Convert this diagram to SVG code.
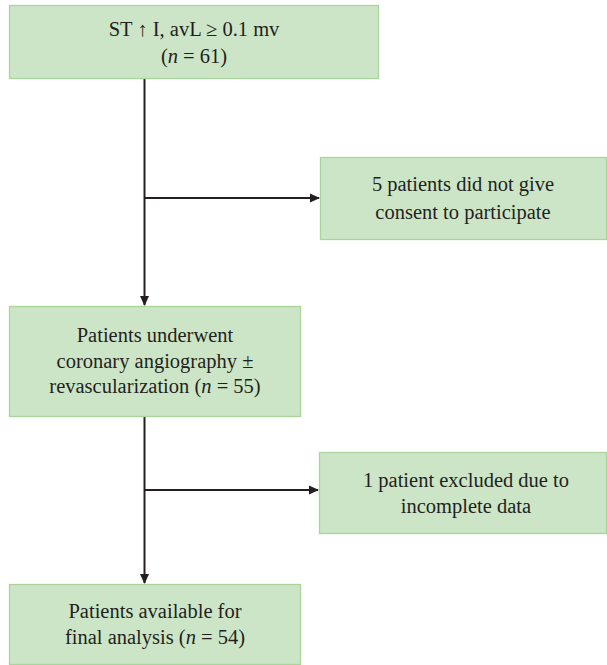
<svg xmlns="http://www.w3.org/2000/svg" width="607" height="665" viewBox="0 0 607 665">
<style>
.box{fill:#cde5c7;stroke:#a9d59c;stroke-width:1.3}
text{font-family:"Liberation Serif","Times New Roman",serif;font-size:20.5px;fill:#231f20;text-anchor:middle}
.ln{stroke:#231f20;stroke-width:2;fill:none}
</style>
<defs>
<marker id="ah" markerWidth="10" markerHeight="10" refX="9" refY="5" orient="auto" markerUnits="userSpaceOnUse">
<path d="M0,0.5 L10,5 L0,9.5 Z" fill="#231f20"/>
</marker>
</defs>
<rect width="607" height="665" fill="#ffffff"/>
<g id="connectors">
<line class="ln" x1="144.5" y1="79" x2="144.5" y2="305" marker-end="url(#ah)"/>
<line class="ln" x1="144.5" y1="198" x2="319" y2="198" marker-end="url(#ah)"/>
<line class="ln" x1="144.5" y1="417" x2="144.5" y2="583" marker-end="url(#ah)"/>
<line class="ln" x1="144.5" y1="490" x2="318" y2="490" marker-end="url(#ah)"/>
</g>
<g id="n1">
<rect class="box" x="9.5" y="5.5" width="369" height="73"/>
<text x="194" y="36">ST ↑ I, avL ≥ 0.1 mv</text>
<text x="194" y="63">(<tspan font-style="italic">n</tspan> = 61)</text>
</g>
<g id="n2">
<rect class="box" x="320.5" y="157.5" width="286" height="82"/>
<text x="463" y="191">5 patients did not give</text>
<text x="463" y="219">consent to participate</text>
</g>
<g id="n3">
<rect class="box" x="9.5" y="306.5" width="291" height="110"/>
<text x="155" y="342">Patients underwent</text>
<text x="155" y="368">coronary angiography ±</text>
<text x="155" y="393">revascularization (<tspan font-style="italic">n</tspan> = 55)</text>
</g>
<g id="n4">
<rect class="box" x="319.5" y="452.5" width="287" height="81"/>
<text x="466" y="487">1 patient excluded due to</text>
<text x="466" y="513">incomplete data</text>
</g>
<g id="n5">
<rect class="box" x="9.5" y="584.5" width="291" height="80"/>
<text x="155" y="618">Patients available for</text>
<text x="155" y="644">final analysis (<tspan font-style="italic">n</tspan> = 54)</text>
</g>
</svg>
